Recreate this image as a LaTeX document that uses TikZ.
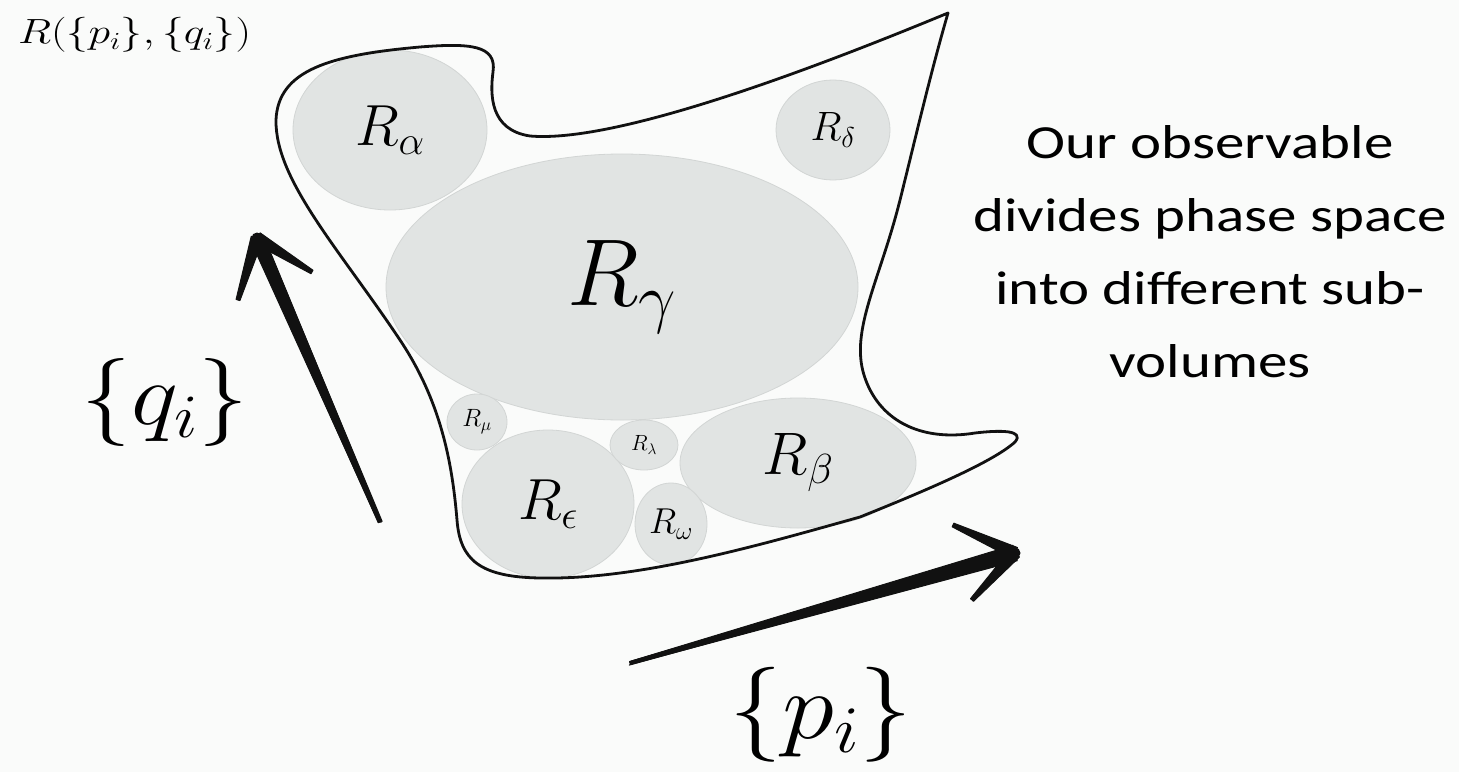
\RequirePackage{fix-cm}
\documentclass[tikz,border=0pt]{standalone}
\usepackage{fontspec}
\usepackage{amsmath}
\usepackage{tikz}
\usetikzlibrary{positioning, shapes.geometric, calc}
\newfontfamily\notefont{Carlito}
\definecolor{cRegFill}{HTML}{E1E4E3}
\definecolor{cRegEdge}{HTML}{D2D5D4}
\definecolor{cPaper}  {HTML}{FAFBFA}
\definecolor{cInk}    {HTML}{111111}
\tikzset{
  region/.style={ellipse, draw=cRegEdge, fill=cRegFill, line width=0.8bp, inner sep=0pt},
  hull/.style={draw=cInk, line width=2.8bp, line join=round, line cap=round},
  pen/.style={fill=cInk, draw=cInk, line width=1bp, line join=round},
  scribble/.style={draw=cInk, line width=1.2bp, line cap=round},
}
\begin{document}
\begin{tikzpicture}[x=1bp, y=-1bp]
  \fill[cPaper] (0,0) rectangle (1459,772);
  \useasboundingbox (0,0) rectangle (1459,772);

  \node[region, minimum width=194bp, minimum height=160bp,
        font=\fontsize{58bp}{64bp}\selectfont] (r_alpha) at (390,130) {$R_\alpha$};
  \node[region, minimum width=114bp, minimum height=100bp,
        font=\fontsize{41bp}{46bp}\selectfont] (r_delta) at (833,130) {$R_\delta$};
  \node[region, minimum width=236bp, minimum height=130bp,
        font=\fontsize{60bp}{66bp}\selectfont] (r_beta) at (798,463) {$R_\beta$};
  \node[region, minimum width=472bp, minimum height=266bp,
        font=\fontsize{95bp}{104bp}\selectfont] (r_gamma) at (622,287) {$R_\gamma$};
  \node[region, minimum width=60bp, minimum height=56bp,
        font=\fontsize{25bp}{29bp}\selectfont] (r_mu) at (477,422) {$R_\mu$};
  \node[region, minimum width=172bp, minimum height=148bp,
        font=\fontsize{58bp}{64bp}\selectfont] (r_eps) at (548,504) {$R_\epsilon$};
  \node[region, minimum width=68bp, minimum height=50bp,
        font=\fontsize{22bp}{26bp}\selectfont] (r_lambda) at (644,445) {$R_\lambda$};
  \node[region, minimum width=72bp, minimum height=82bp,
        font=\fontsize{36bp}{40bp}\selectfont] (r_omega) at (671,524) {$R_\omega$};

  \draw[hull] (948,13) .. controls (930,75) and (915,140) .. (900,200)
    .. controls (880,280) and (850,330) .. (864,375)
    .. controls (878,420) and (920,442) .. (975,433)
    .. controls (1000,430) and (1025,430) .. (1015,442)
    .. controls (995,460) and (940,485) .. (860,517)
    .. controls (760,545) and (640,580) .. (540,578)
    .. controls (480,577) and (460,560) .. (457,520)
    .. controls (452,460) and (440,400) .. (400,340)
    .. controls (340,250) and (275,180) .. (276,120)
    .. controls (278,70) and (330,55) .. (420,47)
    .. controls (470,43) and (497,45) .. (493,72)
    .. controls (490,95) and (490,130) .. (530,136)
    .. controls (600,142) and (750,95) .. (948,13);

  \coordinate (q_tail)   at (380,522);
  \coordinate (q_tip)    at (257,238);
  \coordinate (q_barb_r) at (312,272);
  \coordinate (q_barb_l) at (238,300);
  \fill[pen] ($(q_tail)!1.5bp!90:(q_tip)$) -- ($(q_tip)!7bp!-90:(q_tail)$)
    -- ($(q_tip)!7bp!90:(q_tail)$) -- ($(q_tail)!1.5bp!-90:(q_tip)$) -- cycle;
  \foreach \b in {q_barb_r, q_barb_l}
    \fill[pen] ($(q_tip)!6bp!90:(\b)$) -- ($(\b)!2bp!-90:(q_tip)$)
      -- ($(\b)!2bp!90:(q_tip)$) -- ($(q_tip)!6bp!-90:(\b)$) -- cycle;
  \fill[cInk] (q_tip) circle (5.5bp);
  \foreach \dx/\dy in {3/1, -3/-1, 6/-2, -5/2}
    \draw[scribble] ($(q_tail)+(\dx/3,\dy/3)$) -- ($(q_tip)+(\dx,\dy)$);

  \coordinate (p_tail)   at (630,663);
  \coordinate (p_tip)    at (1015,553);
  \coordinate (p_barb_t) at (953,525);
  \coordinate (p_barb_b) at (972,600);
  \fill[pen] ($(p_tail)!1.5bp!90:(p_tip)$) -- ($(p_tip)!8bp!-90:(p_tail)$)
    -- ($(p_tip)!8bp!90:(p_tail)$) -- ($(p_tail)!1.5bp!-90:(p_tip)$) -- cycle;
  \foreach \b in {p_barb_t, p_barb_b}
    \fill[pen] ($(p_tip)!6bp!90:(\b)$) -- ($(\b)!2bp!-90:(p_tip)$)
      -- ($(\b)!2bp!90:(p_tip)$) -- ($(p_tip)!6bp!-90:(\b)$) -- cycle;
  \fill[cInk] (p_tip) circle (5.5bp);
  \foreach \dx/\dy in {1/3, -1/-3, -2/6, 2/-5}
    \draw[scribble] ($(p_tail)+(\dx/3,\dy/3)$) -- ($(p_tip)+(\dx,\dy)$);

  \node[anchor=base west, inner sep=0pt, xscale=1.25, transform shape,
        font=\fontsize{35bp}{40bp}\selectfont]
       (space_lbl) at (18,44) {$R(\{p_i\},\{q_i\})$};
  \node[anchor=base, inner sep=0pt, xscale=1.13, transform shape,
        font=\fontsize{88bp}{96bp}\selectfont]
       (q_lbl) at (165,424) {$\{q_i\}$};
  \node[anchor=base, inner sep=0pt, xscale=1.11, transform shape,
        font=\fontsize{95bp}{100bp}\selectfont]
       (p_lbl) at (821,738) {$\{p_i\}$};
  \node[anchor=base, inner sep=0pt, align=center, xscale=1.24, transform shape,
        font=\notefont\fontsize{47.5bp}{73bp}\selectfont]
       (note) at (1210,377) {Our observable\\ divides phase space\\ into different sub-\\ volumes};
\end{tikzpicture}
\end{document}
